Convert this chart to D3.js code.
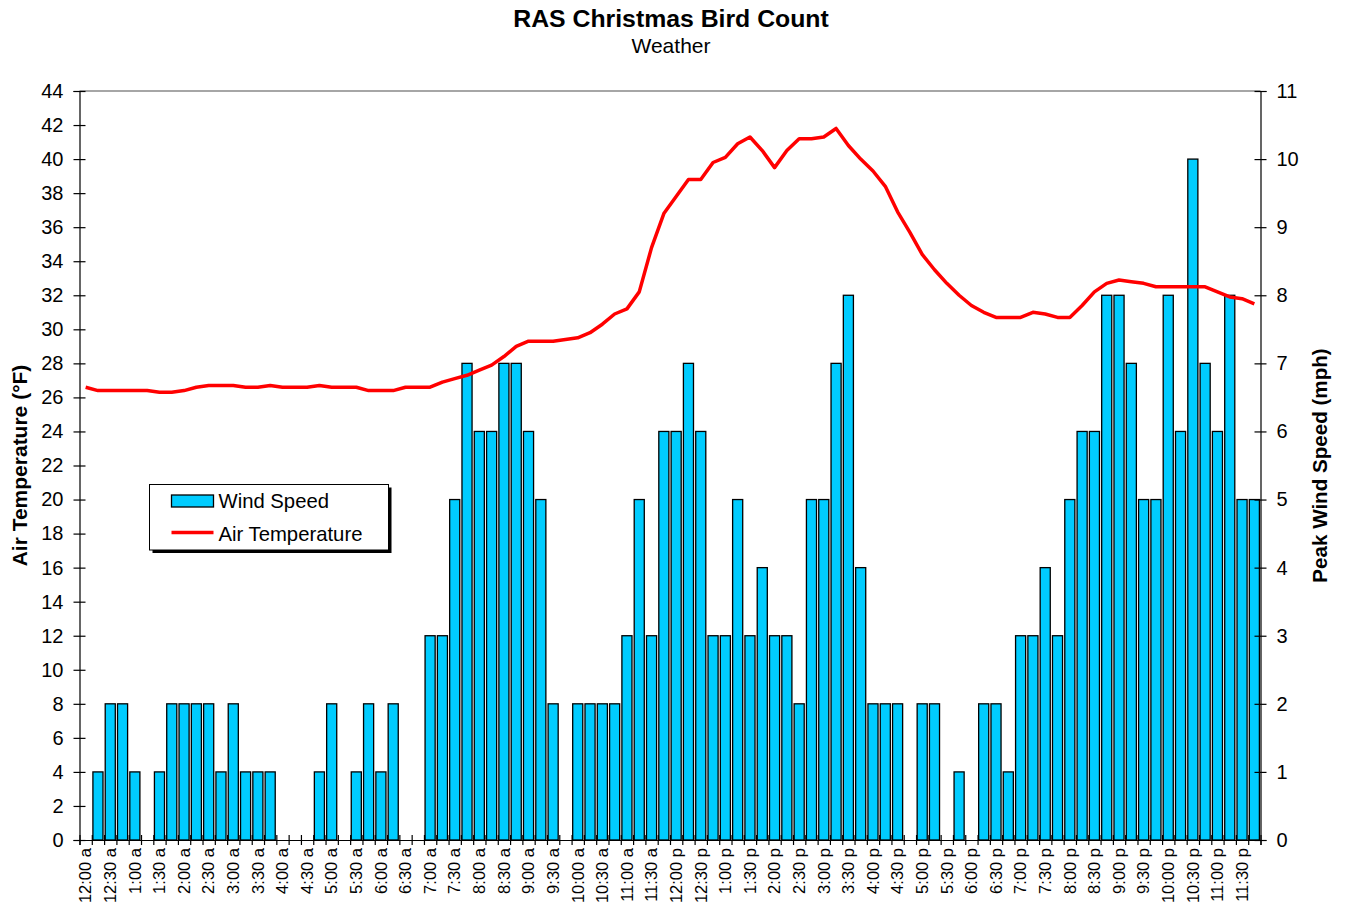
<!DOCTYPE html>
<html>
<head>
<meta charset="utf-8">
<script src="https://d3js.org/d3.v7.min.js"></script>
<style>
  body { margin: 0; background: #fff; }
  text { font-family: "Liberation Sans", Arial, sans-serif; fill: #000; }
</style>
</head>
<body>
<script>
'use strict';

// 15 minute readings over the count day
const times = [
  "12:00 a","12:15 a","12:30 a","12:45 a","1:00 a","1:15 a","1:30 a","1:45 a",
  "2:00 a","2:15 a","2:30 a","2:45 a","3:00 a","3:15 a","3:30 a","3:45 a",
  "4:00 a","4:15 a","4:30 a","4:45 a","5:00 a","5:15 a","5:30 a","5:45 a",
  "6:00 a","6:15 a","6:30 a","6:45 a","7:00 a","7:15 a","7:30 a","7:45 a",
  "8:00 a","8:15 a","8:30 a","8:45 a","9:00 a","9:15 a","9:30 a","9:45 a",
  "10:00 a","10:15 a","10:30 a","10:45 a","11:00 a","11:15 a","11:30 a","11:45 a",
  "12:00 p","12:15 p","12:30 p","12:45 p","1:00 p","1:15 p","1:30 p","1:45 p",
  "2:00 p","2:15 p","2:30 p","2:45 p","3:00 p","3:15 p","3:30 p","3:45 p",
  "4:00 p","4:15 p","4:30 p","4:45 p","5:00 p","5:15 p","5:30 p","5:45 p",
  "6:00 p","6:15 p","6:30 p","6:45 p","7:00 p","7:15 p","7:30 p","7:45 p",
  "8:00 p","8:15 p","8:30 p","8:45 p","9:00 p","9:15 p","9:30 p","9:45 p",
  "10:00 p","10:15 p","10:30 p","10:45 p","11:00 p","11:15 p","11:30 p","11:45 p"
];

// peak wind speed (mph)
const windSpeed = [
  0,1,2,2,1,0,1,2, 2,2,2,1,2,1,1,1,
  0,0,0,1,2,0,1,2, 1,2,0,0,3,3,5,7,
  6,6,7,7,6,5,2,0, 2,2,2,2,3,5,3,6,
  6,7,6,3,3,5,3,4, 3,3,2,5,5,7,8,4,
  2,2,2,0,2,2,0,1, 0,2,2,1,3,3,4,3,
  5,6,6,8,8,7,5,5, 8,6,10,7,6,8,5,5
];

// air temperature (F)
const airTemp = [
  26.6,26.4,26.4,26.4,26.4,26.4,26.3,26.3, 26.4,26.6,26.7,26.7,26.7,26.6,26.6,26.7,
  26.6,26.6,26.6,26.7,26.6,26.6,26.6,26.4, 26.4,26.4,26.6,26.6,26.6,26.9,27.1,27.3,
  27.6,27.9,28.4,29.0,29.3,29.3,29.3,29.4, 29.5,29.8,30.3,30.9,31.2,32.2,34.8,36.8,
  37.8,38.8,38.8,39.8,40.1,40.9,41.3,40.5, 39.5,40.5,41.2,41.2,41.3,41.8,40.8,40.0,
  39.3,38.4,36.9,35.7,34.4,33.5,32.7,32.0, 31.4,31.0,30.7,30.7,30.7,31.0,30.9,30.7,
  30.7,31.4,32.2,32.7,32.9,32.8,32.7,32.5, 32.5,32.5,32.5,32.5,32.2,31.9,31.8,31.5
];

const tempTicks = [0,2,4,6,8,10,12,14,16,18,20,22,24,26,28,30,32,34,36,38,40,42,44];
const windTicks = [0,1,2,3,4,5,6,7,8,9,10,11];

const barColor = "#00ccff";
const lineColor = "#ff0000";

let svgContainer = "";
let margin = "";
let width = "";
let height = "";

window.onload = function() {
  margin = {top: 91, right: 84.5, bottom: 69, left: 79.5};
  width = 1345 - margin.left - margin.right;
  height = 909 - margin.top - margin.bottom;

  svgContainer = d3.select("body")
    .append("svg")
    .attr("width", 1345)
    .attr("height", 909);

  makeChart();
};

function makeChart() {
  const g = svgContainer.append("g")
    .attr("transform", "translate(" + margin.left + "," + margin.top + ")");

  // category scale, bars centred in each 15 minute slot
  const x = d3.scaleBand()
    .domain(times)
    .range([0, width])
    .paddingInner(0.18)
    .paddingOuter(0.09);

  // slot boundaries for the tick marks
  const xEdges = d3.scaleLinear()
    .domain([0, times.length])
    .range([0, width]);

  const yTemp = d3.scaleLinear().domain([0, 44]).range([height, 0]);
  const yWind = d3.scaleLinear().domain([0, 11]).range([height, 0]);

  // top frame line
  g.append("line")
    .attr("x1", 0).attr("x2", width)
    .attr("y1", 0).attr("y2", 0)
    .attr("stroke", "#888")
    .attr("stroke-width", 1.5);

  // wind speed bars
  g.selectAll(".bar")
    .data(times.map((t, i) => ({time: t, wind: windSpeed[i]})).filter((d) => d.wind > 0))
    .enter()
    .append("rect")
      .attr("class", "bar")
      .attr("x", (d) => x(d.time))
      .attr("y", (d) => yWind(d.wind))
      .attr("width", x.bandwidth())
      .attr("height", (d) => height - yWind(d.wind))
      .attr("fill", barColor)
      .attr("stroke", "#000")
      .attr("stroke-width", 1.3);

  // temperature line
  const line = d3.line()
    .x((d, i) => x(times[i]) + x.bandwidth() / 2)
    .y((d) => yTemp(d));

  g.append("path")
    .datum(airTemp)
    .attr("d", line)
    .attr("fill", "none")
    .attr("stroke", lineColor)
    .attr("stroke-width", 3.5)
    .attr("stroke-linejoin", "round");

  // left axis (crossing ticks)
  const yAxisL = d3.axisLeft(yTemp).tickValues(tempTicks).tickSize(6).tickPadding(10);
  const gl = g.append("g").call(yAxisL);
  styleAxis(gl, 20);
  gl.selectAll(".tick line").attr("x1", 6);

  // right axis
  const yAxisR = d3.axisRight(yWind).tickValues(windTicks).tickSize(6).tickPadding(10);
  const gr = g.append("g").attr("transform", "translate(" + width + ",0)").call(yAxisR);
  styleAxis(gr, 20);
  gr.selectAll(".tick line").attr("x1", -6);

  // bottom axis: ticks between slots
  const xTicks = d3.axisBottom(xEdges)
    .tickValues(d3.range(times.length + 1))
    .tickFormat("")
    .tickSize(5);
  const gx = g.append("g").attr("transform", "translate(0," + height + ")").call(xTicks);
  styleAxis(gx, 16);
  gx.selectAll(".tick line").attr("y1", -5);

  // half hour labels
  const xLabels = d3.axisBottom(x)
    .tickValues(times.filter((t, i) => i % 2 === 0))
    .tickSize(0);
  const gxl = g.append("g").attr("transform", "translate(0," + height + ")").call(xLabels);
  gxl.select(".domain").remove();
  gxl.selectAll("text")
    .style("font-size", "16.5px")
    .attr("fill", "#000")
    .style("text-anchor", "end")
    .attr("x", -8)
    .attr("y", 0)
    .attr("dy", "0.35em")
    .attr("transform", "rotate(-90)");

  // titles
  svgContainer.append("text")
    .attr("x", 671)
    .attr("y", 27)
    .attr("text-anchor", "middle")
    .style("font-size", "24.8px")
    .style("font-weight", "bold")
    .text("RAS Christmas Bird Count");

  svgContainer.append("text")
    .attr("x", 671)
    .attr("y", 53)
    .attr("text-anchor", "middle")
    .style("font-size", "21px")
    .text("Weather");

  svgContainer.append("text")
    .attr("transform", "translate(20," + (margin.top + height / 2) + ")rotate(-90)")
    .attr("text-anchor", "middle")
    .attr("dy", "0.35em")
    .style("font-size", "21px")
    .style("font-weight", "bold")
    .text("Air Temperature (°F)");

  svgContainer.append("text")
    .attr("transform", "translate(1320," + (margin.top + height / 2) + ")rotate(-90)")
    .attr("text-anchor", "middle")
    .attr("dy", "0.35em")
    .style("font-size", "20.6px")
    .style("font-weight", "bold")
    .text("Peak Wind Speed (mph)");

  makeLegend();
}

function styleAxis(sel, size) {
  sel.select(".domain").attr("stroke", "#000").attr("stroke-width", 1.2);
  sel.selectAll(".tick line").attr("stroke", "#000").attr("stroke-width", 1.2);
  sel.selectAll("text").style("font-size", size + "px").attr("fill", "#000");
}

function makeLegend() {
  const lg = svgContainer.append("g").attr("transform", "translate(149.5,484.5)");

  // drop shadow
  lg.append("rect")
    .attr("x", 3).attr("y", 3)
    .attr("width", 239).attr("height", 65.5)
    .attr("fill", "#000");

  lg.append("rect")
    .attr("width", 239).attr("height", 65.5)
    .attr("fill", "#fff")
    .attr("stroke", "#000")
    .attr("stroke-width", 1);

  lg.append("rect")
    .attr("x", 22).attr("y", 10.5)
    .attr("width", 42).attr("height", 12)
    .attr("fill", barColor)
    .attr("stroke", "#000")
    .attr("stroke-width", 1.3);

  lg.append("text")
    .attr("x", 69).attr("y", 23.5)
    .style("font-size", "20.3px")
    .text("Wind Speed");

  lg.append("line")
    .attr("x1", 22).attr("x2", 64)
    .attr("y1", 48).attr("y2", 48)
    .attr("stroke", lineColor)
    .attr("stroke-width", 3.5);

  lg.append("text")
    .attr("x", 69).attr("y", 56)
    .style("font-size", "20.3px")
    .text("Air Temperature");
}
</script>
</body>
</html>
